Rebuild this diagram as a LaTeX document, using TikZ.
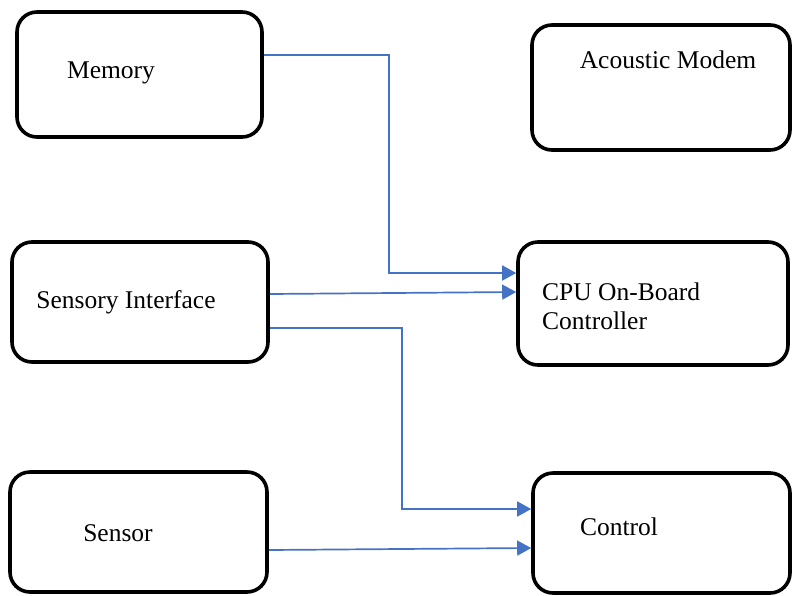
\documentclass[tikz,border=0pt]{standalone}
\usepackage{fontspec}
\setmainfont{Liberation Serif}
\usetikzlibrary{arrows.meta}
\definecolor{linkblue}{HTML}{4472C4}
\tikzset{
  block/.style={draw=black, line width=3.6pt, rounded corners=20pt, fill=none,
                inner sep=0pt},
  caption/.style={font=\fontsize{25.5}{29}\selectfont, inner sep=0pt},
  link/.style={draw=linkblue, line width=1.7pt,
               -{Triangle[length=14pt, width=15pt]}}
}
\begin{document}
\begin{tikzpicture}[x=1pt, y=-1pt]
  \useasboundingbox (0,0) rectangle (792,595);

  % blocks (positions in pixels, y downward)
  \node[block, minimum width=245pt, minimum height=125pt] (mem)     at (139.5,74.5) {};
  \node[block, minimum width=256pt, minimum height=120pt] (sensif)  at (140,302) {};
  \node[block, minimum width=257pt, minimum height=120pt] (sensor)  at (138.5,532) {};
  \node[block, minimum width=258pt, minimum height=125pt] (modem)   at (661,87.5) {};
  \node[block, minimum width=270pt, minimum height=123pt] (cpu)     at (653,303.5) {};
  \node[block, minimum width=257pt, minimum height=120pt] (control) at (661.5,533) {};

  % captions
  \node[caption] (tmem)     at (111,73)  {Memory};
  \node[caption] (tsensif)  at (126,302) {Sensory Interface};
  \node[caption] (tsensor)  at (118,533) {Sensor};
  \node[caption] (tmodem)   at (668,60)  {Acoustic Modem};
  \node[caption, anchor=west, align=left] (tcpu) at (542,306) {CPU On-Board\\Controller};
  \node[caption] (tcontrol) at (619,527) {Control};

  % connectors
  \coordinate (memknee1) at (389,55);
  \coordinate (memknee2) at (389,273);
  \draw[link] (mem.east |- memknee1) -- (memknee1) -- (memknee2) -- (cpu.west |- memknee2);

  \draw[link] (sensif.east |- 0,294) -- (cpu.west |- 0,292);

  \coordinate (sifknee1) at (402,328);
  \coordinate (sifknee2) at (402,509);
  \draw[link] (sensif.east |- sifknee1) -- (sifknee1) -- (sifknee2) -- (control.west |- sifknee2);

  \draw[link] (sensor.east |- 0,550) -- (control.west |- 0,548);
\end{tikzpicture}
\end{document}
